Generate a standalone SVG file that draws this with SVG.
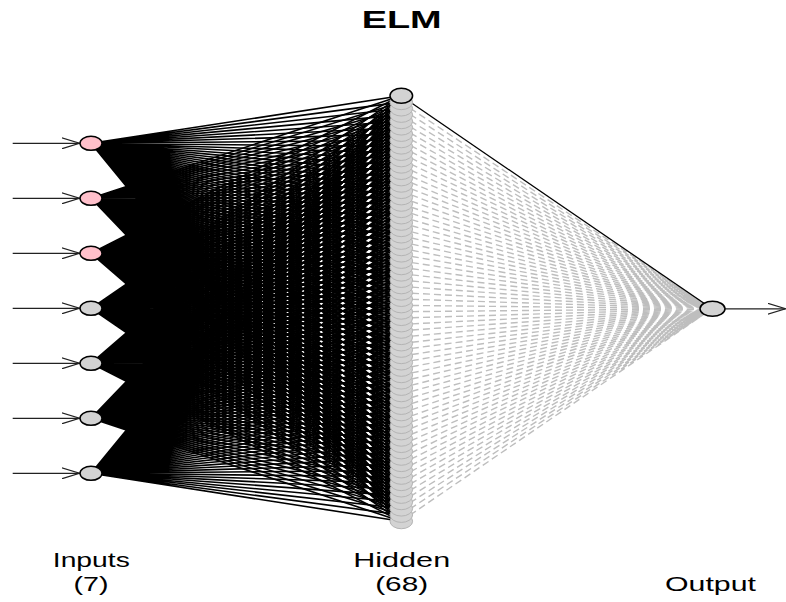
<svg xmlns="http://www.w3.org/2000/svg" xmlns:xlink="http://www.w3.org/1999/xlink" width="786" height="602" viewBox="0 0 786 602">
<style>
text{font-family:"Liberation Sans",Arial,sans-serif;fill:#000}
.title{font-size:23px;font-weight:bold}
.lbl{font-size:21px}
.fan{fill:none;stroke:#000;stroke-width:1.6}
.pos{fill:none;stroke:#000;stroke-width:1.3}
.neg{fill:none;stroke:#bebebe;stroke-width:1.4;stroke-dasharray:7 4}
.arr{fill:none;stroke:#222;stroke-width:1.2}
.inP{fill:#ffc0cb;stroke:#000;stroke-width:1.5}
.inG{fill:#d3d3d3;stroke:#000;stroke-width:1.5}
.hid{fill:#d3d3d3;stroke:#b4b4b4;stroke-width:1}
.hidTop{fill:#d3d3d3;stroke:#000;stroke-width:1.5}
</style>
<defs>
<marker id="vhead" viewBox="0 0 18 12" refX="18" refY="6" markerWidth="18" markerHeight="12" markerUnits="userSpaceOnUse" orient="auto">
<path d="M0,0.4 L18,6 L0,11.6" fill="none" stroke="#222" stroke-width="1.2"/>
</marker>
<ellipse id="hn" cx="401.3" cy="0" rx="11.3" ry="7.5"/>
<ellipse id="inode" cx="91" cy="0" rx="11" ry="7"/>
</defs>
<text class="title" x="401.7" y="28.3" text-anchor="middle" textLength="80" lengthAdjust="spacingAndGlyphs">ELM</text>
<g id="connectors">
<path class="fan" d="M91 143.3 401 95.8M91 143.3 401 102.15M91 143.3 401 108.5M91 143.3 401 114.85M91 143.3 401 121.2M91 143.3 401 127.55M91 143.3 401 133.9M91 143.3 401 140.25M91 143.3 401 146.6M91 143.3 401 152.95M91 143.3 401 159.3M91 143.3 401 165.65M91 143.3 401 172M91 143.3 401 178.35M91 143.3 401 184.7M91 143.3 401 191.05M91 143.3 401 197.4M91 143.3 401 203.75M91 143.3 401 210.1M91 143.3 401 216.45M91 143.3 401 222.8M91 143.3 401 229.15M91 143.3 401 235.5M91 143.3 401 241.85M91 143.3 401 248.2M91 143.3 401 254.55M91 143.3 401 260.9M91 143.3 401 267.25M91 143.3 401 273.6M91 143.3 401 279.95M91 143.3 401 286.3M91 143.3 401 292.65M91 143.3 401 299M91 143.3 401 305.35M91 143.3 401 311.7M91 143.3 401 318.05M91 143.3 401 324.4M91 143.3 401 330.75M91 143.3 401 337.1M91 143.3 401 343.45M91 143.3 401 349.8M91 143.3 401 356.15M91 143.3 401 362.5M91 143.3 401 368.85M91 143.3 401 375.2M91 143.3 401 381.55M91 143.3 401 387.9M91 143.3 401 394.25M91 143.3 401 400.6M91 143.3 401 406.95M91 143.3 401 413.3M91 143.3 401 419.65M91 143.3 401 426M91 143.3 401 432.35M91 143.3 401 438.7M91 143.3 401 445.05M91 143.3 401 451.4M91 143.3 401 457.75M91 143.3 401 464.1M91 143.3 401 470.45M91 143.3 401 476.8M91 143.3 401 483.15M91 143.3 401 489.5M91 143.3 401 495.85M91 143.3 401 502.2M91 143.3 401 508.55M91 143.3 401 514.9M91 143.3 401 521.25"/>
<path class="fan" d="M91 198.3 401 95.8M91 198.3 401 102.15M91 198.3 401 108.5M91 198.3 401 114.85M91 198.3 401 121.2M91 198.3 401 127.55M91 198.3 401 133.9M91 198.3 401 140.25M91 198.3 401 146.6M91 198.3 401 152.95M91 198.3 401 159.3M91 198.3 401 165.65M91 198.3 401 172M91 198.3 401 178.35M91 198.3 401 184.7M91 198.3 401 191.05M91 198.3 401 197.4M91 198.3 401 203.75M91 198.3 401 210.1M91 198.3 401 216.45M91 198.3 401 222.8M91 198.3 401 229.15M91 198.3 401 235.5M91 198.3 401 241.85M91 198.3 401 248.2M91 198.3 401 254.55M91 198.3 401 260.9M91 198.3 401 267.25M91 198.3 401 273.6M91 198.3 401 279.95M91 198.3 401 286.3M91 198.3 401 292.65M91 198.3 401 299M91 198.3 401 305.35M91 198.3 401 311.7M91 198.3 401 318.05M91 198.3 401 324.4M91 198.3 401 330.75M91 198.3 401 337.1M91 198.3 401 343.45M91 198.3 401 349.8M91 198.3 401 356.15M91 198.3 401 362.5M91 198.3 401 368.85M91 198.3 401 375.2M91 198.3 401 381.55M91 198.3 401 387.9M91 198.3 401 394.25M91 198.3 401 400.6M91 198.3 401 406.95M91 198.3 401 413.3M91 198.3 401 419.65M91 198.3 401 426M91 198.3 401 432.35M91 198.3 401 438.7M91 198.3 401 445.05M91 198.3 401 451.4M91 198.3 401 457.75M91 198.3 401 464.1M91 198.3 401 470.45M91 198.3 401 476.8M91 198.3 401 483.15M91 198.3 401 489.5M91 198.3 401 495.85M91 198.3 401 502.2M91 198.3 401 508.55M91 198.3 401 514.9M91 198.3 401 521.25"/>
<path class="fan" d="M91 253.3 401 95.8M91 253.3 401 102.15M91 253.3 401 108.5M91 253.3 401 114.85M91 253.3 401 121.2M91 253.3 401 127.55M91 253.3 401 133.9M91 253.3 401 140.25M91 253.3 401 146.6M91 253.3 401 152.95M91 253.3 401 159.3M91 253.3 401 165.65M91 253.3 401 172M91 253.3 401 178.35M91 253.3 401 184.7M91 253.3 401 191.05M91 253.3 401 197.4M91 253.3 401 203.75M91 253.3 401 210.1M91 253.3 401 216.45M91 253.3 401 222.8M91 253.3 401 229.15M91 253.3 401 235.5M91 253.3 401 241.85M91 253.3 401 248.2M91 253.3 401 254.55M91 253.3 401 260.9M91 253.3 401 267.25M91 253.3 401 273.6M91 253.3 401 279.95M91 253.3 401 286.3M91 253.3 401 292.65M91 253.3 401 299M91 253.3 401 305.35M91 253.3 401 311.7M91 253.3 401 318.05M91 253.3 401 324.4M91 253.3 401 330.75M91 253.3 401 337.1M91 253.3 401 343.45M91 253.3 401 349.8M91 253.3 401 356.15M91 253.3 401 362.5M91 253.3 401 368.85M91 253.3 401 375.2M91 253.3 401 381.55M91 253.3 401 387.9M91 253.3 401 394.25M91 253.3 401 400.6M91 253.3 401 406.95M91 253.3 401 413.3M91 253.3 401 419.65M91 253.3 401 426M91 253.3 401 432.35M91 253.3 401 438.7M91 253.3 401 445.05M91 253.3 401 451.4M91 253.3 401 457.75M91 253.3 401 464.1M91 253.3 401 470.45M91 253.3 401 476.8M91 253.3 401 483.15M91 253.3 401 489.5M91 253.3 401 495.85M91 253.3 401 502.2M91 253.3 401 508.55M91 253.3 401 514.9M91 253.3 401 521.25"/>
<path class="fan" d="M91 308.3 401 95.8M91 308.3 401 102.15M91 308.3 401 108.5M91 308.3 401 114.85M91 308.3 401 121.2M91 308.3 401 127.55M91 308.3 401 133.9M91 308.3 401 140.25M91 308.3 401 146.6M91 308.3 401 152.95M91 308.3 401 159.3M91 308.3 401 165.65M91 308.3 401 172M91 308.3 401 178.35M91 308.3 401 184.7M91 308.3 401 191.05M91 308.3 401 197.4M91 308.3 401 203.75M91 308.3 401 210.1M91 308.3 401 216.45M91 308.3 401 222.8M91 308.3 401 229.15M91 308.3 401 235.5M91 308.3 401 241.85M91 308.3 401 248.2M91 308.3 401 254.55M91 308.3 401 260.9M91 308.3 401 267.25M91 308.3 401 273.6M91 308.3 401 279.95M91 308.3 401 286.3M91 308.3 401 292.65M91 308.3 401 299M91 308.3 401 305.35M91 308.3 401 311.7M91 308.3 401 318.05M91 308.3 401 324.4M91 308.3 401 330.75M91 308.3 401 337.1M91 308.3 401 343.45M91 308.3 401 349.8M91 308.3 401 356.15M91 308.3 401 362.5M91 308.3 401 368.85M91 308.3 401 375.2M91 308.3 401 381.55M91 308.3 401 387.9M91 308.3 401 394.25M91 308.3 401 400.6M91 308.3 401 406.95M91 308.3 401 413.3M91 308.3 401 419.65M91 308.3 401 426M91 308.3 401 432.35M91 308.3 401 438.7M91 308.3 401 445.05M91 308.3 401 451.4M91 308.3 401 457.75M91 308.3 401 464.1M91 308.3 401 470.45M91 308.3 401 476.8M91 308.3 401 483.15M91 308.3 401 489.5M91 308.3 401 495.85M91 308.3 401 502.2M91 308.3 401 508.55M91 308.3 401 514.9M91 308.3 401 521.25"/>
<path class="fan" d="M91 363.3 401 95.8M91 363.3 401 102.15M91 363.3 401 108.5M91 363.3 401 114.85M91 363.3 401 121.2M91 363.3 401 127.55M91 363.3 401 133.9M91 363.3 401 140.25M91 363.3 401 146.6M91 363.3 401 152.95M91 363.3 401 159.3M91 363.3 401 165.65M91 363.3 401 172M91 363.3 401 178.35M91 363.3 401 184.7M91 363.3 401 191.05M91 363.3 401 197.4M91 363.3 401 203.75M91 363.3 401 210.1M91 363.3 401 216.45M91 363.3 401 222.8M91 363.3 401 229.15M91 363.3 401 235.5M91 363.3 401 241.85M91 363.3 401 248.2M91 363.3 401 254.55M91 363.3 401 260.9M91 363.3 401 267.25M91 363.3 401 273.6M91 363.3 401 279.95M91 363.3 401 286.3M91 363.3 401 292.65M91 363.3 401 299M91 363.3 401 305.35M91 363.3 401 311.7M91 363.3 401 318.05M91 363.3 401 324.4M91 363.3 401 330.75M91 363.3 401 337.1M91 363.3 401 343.45M91 363.3 401 349.8M91 363.3 401 356.15M91 363.3 401 362.5M91 363.3 401 368.85M91 363.3 401 375.2M91 363.3 401 381.55M91 363.3 401 387.9M91 363.3 401 394.25M91 363.3 401 400.6M91 363.3 401 406.95M91 363.3 401 413.3M91 363.3 401 419.65M91 363.3 401 426M91 363.3 401 432.35M91 363.3 401 438.7M91 363.3 401 445.05M91 363.3 401 451.4M91 363.3 401 457.75M91 363.3 401 464.1M91 363.3 401 470.45M91 363.3 401 476.8M91 363.3 401 483.15M91 363.3 401 489.5M91 363.3 401 495.85M91 363.3 401 502.2M91 363.3 401 508.55M91 363.3 401 514.9M91 363.3 401 521.25"/>
<path class="fan" d="M91 418.3 401 95.8M91 418.3 401 102.15M91 418.3 401 108.5M91 418.3 401 114.85M91 418.3 401 121.2M91 418.3 401 127.55M91 418.3 401 133.9M91 418.3 401 140.25M91 418.3 401 146.6M91 418.3 401 152.95M91 418.3 401 159.3M91 418.3 401 165.65M91 418.3 401 172M91 418.3 401 178.35M91 418.3 401 184.7M91 418.3 401 191.05M91 418.3 401 197.4M91 418.3 401 203.75M91 418.3 401 210.1M91 418.3 401 216.45M91 418.3 401 222.8M91 418.3 401 229.15M91 418.3 401 235.5M91 418.3 401 241.85M91 418.3 401 248.2M91 418.3 401 254.55M91 418.3 401 260.9M91 418.3 401 267.25M91 418.3 401 273.6M91 418.3 401 279.95M91 418.3 401 286.3M91 418.3 401 292.65M91 418.3 401 299M91 418.3 401 305.35M91 418.3 401 311.7M91 418.3 401 318.05M91 418.3 401 324.4M91 418.3 401 330.75M91 418.3 401 337.1M91 418.3 401 343.45M91 418.3 401 349.8M91 418.3 401 356.15M91 418.3 401 362.5M91 418.3 401 368.85M91 418.3 401 375.2M91 418.3 401 381.55M91 418.3 401 387.9M91 418.3 401 394.25M91 418.3 401 400.6M91 418.3 401 406.95M91 418.3 401 413.3M91 418.3 401 419.65M91 418.3 401 426M91 418.3 401 432.35M91 418.3 401 438.7M91 418.3 401 445.05M91 418.3 401 451.4M91 418.3 401 457.75M91 418.3 401 464.1M91 418.3 401 470.45M91 418.3 401 476.8M91 418.3 401 483.15M91 418.3 401 489.5M91 418.3 401 495.85M91 418.3 401 502.2M91 418.3 401 508.55M91 418.3 401 514.9M91 418.3 401 521.25"/>
<path class="fan" d="M91 473.3 401 95.8M91 473.3 401 102.15M91 473.3 401 108.5M91 473.3 401 114.85M91 473.3 401 121.2M91 473.3 401 127.55M91 473.3 401 133.9M91 473.3 401 140.25M91 473.3 401 146.6M91 473.3 401 152.95M91 473.3 401 159.3M91 473.3 401 165.65M91 473.3 401 172M91 473.3 401 178.35M91 473.3 401 184.7M91 473.3 401 191.05M91 473.3 401 197.4M91 473.3 401 203.75M91 473.3 401 210.1M91 473.3 401 216.45M91 473.3 401 222.8M91 473.3 401 229.15M91 473.3 401 235.5M91 473.3 401 241.85M91 473.3 401 248.2M91 473.3 401 254.55M91 473.3 401 260.9M91 473.3 401 267.25M91 473.3 401 273.6M91 473.3 401 279.95M91 473.3 401 286.3M91 473.3 401 292.65M91 473.3 401 299M91 473.3 401 305.35M91 473.3 401 311.7M91 473.3 401 318.05M91 473.3 401 324.4M91 473.3 401 330.75M91 473.3 401 337.1M91 473.3 401 343.45M91 473.3 401 349.8M91 473.3 401 356.15M91 473.3 401 362.5M91 473.3 401 368.85M91 473.3 401 375.2M91 473.3 401 381.55M91 473.3 401 387.9M91 473.3 401 394.25M91 473.3 401 400.6M91 473.3 401 406.95M91 473.3 401 413.3M91 473.3 401 419.65M91 473.3 401 426M91 473.3 401 432.35M91 473.3 401 438.7M91 473.3 401 445.05M91 473.3 401 451.4M91 473.3 401 457.75M91 473.3 401 464.1M91 473.3 401 470.45M91 473.3 401 476.8M91 473.3 401 483.15M91 473.3 401 489.5M91 473.3 401 495.85M91 473.3 401 502.2M91 473.3 401 508.55M91 473.3 401 514.9M91 473.3 401 521.25"/>
<path class="neg" d="M401 102.15 712 308.8M401 108.5 712 308.8M401 114.85 712 308.8M401 121.2 712 308.8M401 127.55 712 308.8M401 133.9 712 308.8M401 140.25 712 308.8M401 146.6 712 308.8M401 152.95 712 308.8M401 159.3 712 308.8M401 165.65 712 308.8M401 172 712 308.8M401 178.35 712 308.8M401 184.7 712 308.8M401 191.05 712 308.8M401 197.4 712 308.8M401 203.75 712 308.8M401 210.1 712 308.8M401 216.45 712 308.8M401 222.8 712 308.8M401 229.15 712 308.8M401 235.5 712 308.8M401 241.85 712 308.8M401 248.2 712 308.8M401 254.55 712 308.8M401 260.9 712 308.8M401 267.25 712 308.8M401 273.6 712 308.8M401 279.95 712 308.8M401 286.3 712 308.8M401 292.65 712 308.8M401 299 712 308.8M401 305.35 712 308.8M401 311.7 712 308.8M401 318.05 712 308.8M401 324.4 712 308.8M401 330.75 712 308.8M401 337.1 712 308.8M401 343.45 712 308.8M401 349.8 712 308.8M401 356.15 712 308.8M401 362.5 712 308.8M401 368.85 712 308.8M401 375.2 712 308.8M401 381.55 712 308.8M401 387.9 712 308.8M401 394.25 712 308.8M401 400.6 712 308.8M401 406.95 712 308.8M401 413.3 712 308.8M401 419.65 712 308.8M401 426 712 308.8M401 432.35 712 308.8M401 438.7 712 308.8M401 445.05 712 308.8M401 451.4 712 308.8M401 457.75 712 308.8M401 464.1 712 308.8M401 470.45 712 308.8M401 476.8 712 308.8M401 483.15 712 308.8M401 489.5 712 308.8M401 495.85 712 308.8M401 502.2 712 308.8M401 508.55 712 308.8M401 514.9 712 308.8M401 521.25 712 308.8"/>
<path class="pos" d="M401 95.8 712 308.8"/>
<line class="arr" x1="12.7" y1="143.3" x2="79.5" y2="143.3" marker-end="url(#vhead)"/>
<line class="arr" x1="12.7" y1="198.3" x2="79.5" y2="198.3" marker-end="url(#vhead)"/>
<line class="arr" x1="12.7" y1="253.3" x2="79.5" y2="253.3" marker-end="url(#vhead)"/>
<line class="arr" x1="12.7" y1="308.3" x2="79.5" y2="308.3" marker-end="url(#vhead)"/>
<line class="arr" x1="12.7" y1="363.3" x2="79.5" y2="363.3" marker-end="url(#vhead)"/>
<line class="arr" x1="12.7" y1="418.3" x2="79.5" y2="418.3" marker-end="url(#vhead)"/>
<line class="arr" x1="12.7" y1="473.3" x2="79.5" y2="473.3" marker-end="url(#vhead)"/>
<line class="arr" x1="724.5" y1="308.8" x2="785.5" y2="308.8" marker-end="url(#vhead)"/>
</g>
<g id="input-1"><use href="#inode" y="143.3" class="inP"/></g>
<g id="input-2"><use href="#inode" y="198.3" class="inP"/></g>
<g id="input-3"><use href="#inode" y="253.3" class="inP"/></g>
<g id="input-4"><use href="#inode" y="308.3" class="inG"/></g>
<g id="input-5"><use href="#inode" y="363.3" class="inG"/></g>
<g id="input-6"><use href="#inode" y="418.3" class="inG"/></g>
<g id="input-7"><use href="#inode" y="473.3" class="inG"/></g>
<g id="hidden-68"><use href="#hn" y="521.25" class="hid"/></g>
<g id="hidden-67"><use href="#hn" y="514.9" class="hid"/></g>
<g id="hidden-66"><use href="#hn" y="508.55" class="hid"/></g>
<g id="hidden-65"><use href="#hn" y="502.2" class="hid"/></g>
<g id="hidden-64"><use href="#hn" y="495.85" class="hid"/></g>
<g id="hidden-63"><use href="#hn" y="489.5" class="hid"/></g>
<g id="hidden-62"><use href="#hn" y="483.15" class="hid"/></g>
<g id="hidden-61"><use href="#hn" y="476.8" class="hid"/></g>
<g id="hidden-60"><use href="#hn" y="470.45" class="hid"/></g>
<g id="hidden-59"><use href="#hn" y="464.1" class="hid"/></g>
<g id="hidden-58"><use href="#hn" y="457.75" class="hid"/></g>
<g id="hidden-57"><use href="#hn" y="451.4" class="hid"/></g>
<g id="hidden-56"><use href="#hn" y="445.05" class="hid"/></g>
<g id="hidden-55"><use href="#hn" y="438.7" class="hid"/></g>
<g id="hidden-54"><use href="#hn" y="432.35" class="hid"/></g>
<g id="hidden-53"><use href="#hn" y="426" class="hid"/></g>
<g id="hidden-52"><use href="#hn" y="419.65" class="hid"/></g>
<g id="hidden-51"><use href="#hn" y="413.3" class="hid"/></g>
<g id="hidden-50"><use href="#hn" y="406.95" class="hid"/></g>
<g id="hidden-49"><use href="#hn" y="400.6" class="hid"/></g>
<g id="hidden-48"><use href="#hn" y="394.25" class="hid"/></g>
<g id="hidden-47"><use href="#hn" y="387.9" class="hid"/></g>
<g id="hidden-46"><use href="#hn" y="381.55" class="hid"/></g>
<g id="hidden-45"><use href="#hn" y="375.2" class="hid"/></g>
<g id="hidden-44"><use href="#hn" y="368.85" class="hid"/></g>
<g id="hidden-43"><use href="#hn" y="362.5" class="hid"/></g>
<g id="hidden-42"><use href="#hn" y="356.15" class="hid"/></g>
<g id="hidden-41"><use href="#hn" y="349.8" class="hid"/></g>
<g id="hidden-40"><use href="#hn" y="343.45" class="hid"/></g>
<g id="hidden-39"><use href="#hn" y="337.1" class="hid"/></g>
<g id="hidden-38"><use href="#hn" y="330.75" class="hid"/></g>
<g id="hidden-37"><use href="#hn" y="324.4" class="hid"/></g>
<g id="hidden-36"><use href="#hn" y="318.05" class="hid"/></g>
<g id="hidden-35"><use href="#hn" y="311.7" class="hid"/></g>
<g id="hidden-34"><use href="#hn" y="305.35" class="hid"/></g>
<g id="hidden-33"><use href="#hn" y="299" class="hid"/></g>
<g id="hidden-32"><use href="#hn" y="292.65" class="hid"/></g>
<g id="hidden-31"><use href="#hn" y="286.3" class="hid"/></g>
<g id="hidden-30"><use href="#hn" y="279.95" class="hid"/></g>
<g id="hidden-29"><use href="#hn" y="273.6" class="hid"/></g>
<g id="hidden-28"><use href="#hn" y="267.25" class="hid"/></g>
<g id="hidden-27"><use href="#hn" y="260.9" class="hid"/></g>
<g id="hidden-26"><use href="#hn" y="254.55" class="hid"/></g>
<g id="hidden-25"><use href="#hn" y="248.2" class="hid"/></g>
<g id="hidden-24"><use href="#hn" y="241.85" class="hid"/></g>
<g id="hidden-23"><use href="#hn" y="235.5" class="hid"/></g>
<g id="hidden-22"><use href="#hn" y="229.15" class="hid"/></g>
<g id="hidden-21"><use href="#hn" y="222.8" class="hid"/></g>
<g id="hidden-20"><use href="#hn" y="216.45" class="hid"/></g>
<g id="hidden-19"><use href="#hn" y="210.1" class="hid"/></g>
<g id="hidden-18"><use href="#hn" y="203.75" class="hid"/></g>
<g id="hidden-17"><use href="#hn" y="197.4" class="hid"/></g>
<g id="hidden-16"><use href="#hn" y="191.05" class="hid"/></g>
<g id="hidden-15"><use href="#hn" y="184.7" class="hid"/></g>
<g id="hidden-14"><use href="#hn" y="178.35" class="hid"/></g>
<g id="hidden-13"><use href="#hn" y="172" class="hid"/></g>
<g id="hidden-12"><use href="#hn" y="165.65" class="hid"/></g>
<g id="hidden-11"><use href="#hn" y="159.3" class="hid"/></g>
<g id="hidden-10"><use href="#hn" y="152.95" class="hid"/></g>
<g id="hidden-9"><use href="#hn" y="146.6" class="hid"/></g>
<g id="hidden-8"><use href="#hn" y="140.25" class="hid"/></g>
<g id="hidden-7"><use href="#hn" y="133.9" class="hid"/></g>
<g id="hidden-6"><use href="#hn" y="127.55" class="hid"/></g>
<g id="hidden-5"><use href="#hn" y="121.2" class="hid"/></g>
<g id="hidden-4"><use href="#hn" y="114.85" class="hid"/></g>
<g id="hidden-3"><use href="#hn" y="108.5" class="hid"/></g>
<g id="hidden-2"><use href="#hn" y="102.15" class="hid"/></g>
<g id="hidden-1"><use href="#hn" y="95.8" class="hidTop"/></g>
<g id="output-1"><ellipse cx="712.5" cy="308.8" rx="12.5" ry="7.5" class="inG"/></g>
<g id="labels">
<text class="lbl" x="91.3" y="567" text-anchor="middle" textLength="77" lengthAdjust="spacingAndGlyphs">Inputs</text>
<text class="lbl" x="91" y="591" text-anchor="middle" textLength="35" lengthAdjust="spacingAndGlyphs">(7)</text>
<text class="lbl" x="401.7" y="567" text-anchor="middle" textLength="97" lengthAdjust="spacingAndGlyphs">Hidden</text>
<text class="lbl" x="401.7" y="591" text-anchor="middle" textLength="53" lengthAdjust="spacingAndGlyphs">(68)</text>
<text class="lbl" x="710.5" y="591" text-anchor="middle" textLength="91" lengthAdjust="spacingAndGlyphs">Output</text>
</g>
</svg>
